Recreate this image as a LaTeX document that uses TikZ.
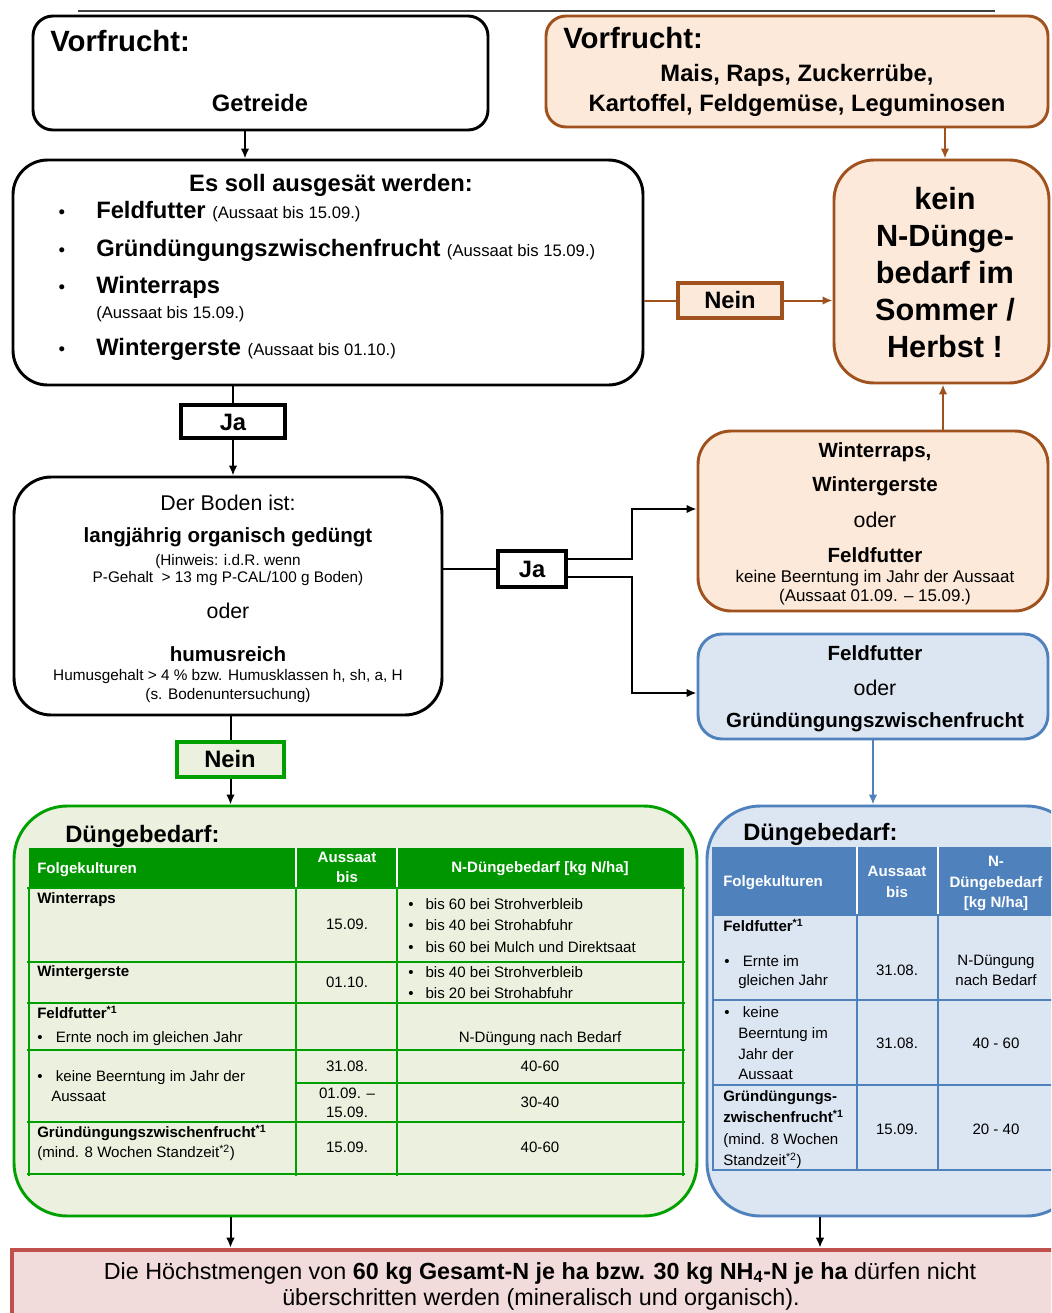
\documentclass[tikz,border=0pt]{standalone}
\usepackage{fontspec}
\setmainfont{Liberation Sans}
\usetikzlibrary{arrows.meta,fit}
\definecolor{brn}{RGB}{160,82,30}
\definecolor{orfill}{RGB}{253,233,217}
\definecolor{grn}{RGB}{0,160,0}
\definecolor{grnhead}{RGB}{0,150,0}
\definecolor{grfill}{RGB}{235,241,222}
\definecolor{blu}{RGB}{79,129,189}
\definecolor{blfill}{RGB}{220,230,242}
\definecolor{redb}{RGB}{192,80,77}
\definecolor{redfill}{RGB}{242,220,219}
\newcommand\fsz[2]{\fontsize{#1}{#2}\selectfont}
\newcommand\fVor{\fsz{22}{26}\bfseries}
\newcommand\fBig{\fsz{17.8}{21}\bfseries}
\newcommand\fSmall{\fsz{12.5}{15}\mdseries}
\newcommand\fKein{\fsz{23}{28}\bfseries}
\newcommand\fMid{\fsz{15.4}{18}\bfseries}
\newcommand\fOder{\fsz{16}{19}\mdseries}
\newcommand\fTiny{\fsz{11.5}{14}\mdseries}
\newcommand\fTab{\fsz{11.3}{14}\mdseries}
\newcommand\fTabB{\fsz{11.3}{14}\bfseries}
\newcommand\fRed{\fsz{17.5}{20}\mdseries}
\tikzset{
  box/.style={draw, line width=2.2pt, inner sep=0pt, fill=white},
  lbl/.style={draw, line width=3pt, inner sep=0pt},
  conn/.style={line width=1.5pt, -{Latex[length=7.5pt,width=6.5pt]}},
  plain/.style={line width=1.5pt},
  t/.style={inner sep=0pt, anchor=base},
  tl/.style={inner sep=0pt, anchor=base west},
  tm/.style={inner sep=0pt, anchor=mid},
  tml/.style={inner sep=0pt, anchor=mid west},
  gline/.style={grn, line width=1.2pt},
  bline/.style={blu, line width=1.4pt},
}
\begin{document}
\begin{tikzpicture}[x=0.75pt,y=-0.75pt]
\useasboundingbox (0,0) rectangle (1051,1313);
\clip (0,0) rectangle (1051,1313);
\fill[white] (0,0) rectangle (1051,1313);

% top rule
\draw[line width=1.5pt, black!75] (78,11) -- (995,11);

% ---------- boxes ----------
\node[box, rounded corners=15pt, fit={(33,16) (488,130)}] (v1) {};
\node[box, draw=brn, fill=orfill, rounded corners=15pt, fit={(546,16) (1048,127)}] (v2) {};
\node[box, rounded corners=26pt, fit={(13,160) (643,385)}] (es) {};
\node[box, draw=brn, fill=orfill, rounded corners=30pt, fit={(834,160) (1049,383)}] (kein) {};
\node[lbl, draw=brn, fill=orfill, fit={(678,283) (782,318)}] (neinA) {};
\node[lbl, fill=white, fit={(181,405) (285,438)}] (ja1) {};
\node[box, rounded corners=28pt, fit={(14,477) (442,715)}] (boden) {};
\node[lbl, fill=white, fit={(498,551) (566,587)}] (ja2) {};
\node[box, draw=brn, fill=orfill, rounded corners=25pt, fit={(698,431) (1048,611)}] (or2) {};
\node[box, draw=blu, fill=blfill, rounded corners=18pt, fit={(698,634) (1048,739)}] (blue1) {};
\node[lbl, draw=grn, fill=grfill, fit={(177,742) (284,777)}] (neinG) {};
\node[box, draw=grn, fill=grfill, rounded corners=40pt, fit={(14,806) (697,1216)}] (gbox) {};
\node[box, draw=blu, fill=blfill, rounded corners=40pt, fit={(707,806) (1080,1216)}] (bbox) {};
\node[box, draw=redb, fill=redfill, line width=3.5pt, fit={(12,1250) (1080,1340)}] (red) {};

% ---------- connectors ----------
\coordinate (xa) at (245,0);
\coordinate (xb) at (945,0);
\coordinate (xc) at (943,0);
\coordinate (xd) at (820,0);
\coordinate (br1) at (632,509);
\coordinate (br2) at (632,693);
\draw[conn] (v1.south -| xa) -- (es.north -| xa);
\draw[conn, brn] (v2.south -| xb) -- (kein.north -| xb);
\draw[plain, brn] (neinA.west -| es.east) -- (neinA.west);
\draw[conn, brn] (neinA.east) -- (kein.west |- neinA.east);
\draw[plain] (es.south -| ja1) -- (ja1.north);
\draw[conn] (ja1.south) -- (boden.north -| ja1);
\draw[plain] (ja2.west -| boden.east) -- (ja2.west);
\draw[conn] ([yshift=7.5pt]ja2.east) -| (br1) -- (or2.west |- br1);
\draw[conn] ([yshift=-6pt]ja2.east) -| (br2) -- (blue1.west |- br2);
\draw[conn, brn] (or2.north -| xc) -- (kein.south -| xc);
\draw[conn, blu] (blue1.south) -- (bbox.north -| blue1.south);
\draw[plain] (boden.south -| neinG) -- (neinG.north);
\draw[conn] (neinG.south) -- (gbox.north -| neinG);
\draw[conn] (gbox.south -| neinG) -- (red.north -| neinG);
\draw[conn] (bbox.south -| xd) -- (red.north -| xd);

% ---------- texts: Vorfrucht ----------
\node[tl, font=\fVor] (v1t) at (50,52) {Vorfrucht:};
\node[t, font=\fBig] (v1g) at (260,112) {Getreide};
\node[tl, font=\fVor] (v2t) at (563,49) {Vorfrucht:};
\node[t, font=\fBig] (v2a) at (797,82) {Mais, Raps, Zuckerrübe,};
\node[t, font=\fBig] (v2b) at (797,111) {Kartoffel, Feldgemüse, Leguminosen};

% ---------- Es soll ----------
\node[t, font=\fBig] (esh) at (331,191) {Es soll ausgesät werden:};
\node[t, font=\fsz{14}{16}] (eb1) at (62,218) {•};
\node[t, font=\fsz{14}{16}] (eb2) at (62,256) {•};
\node[t, font=\fsz{14}{16}] (eb3) at (62,293) {•};
\node[t, font=\fsz{14}{16}] (eb4) at (62,355) {•};
\node[tl, font=\fBig] (ei1) at (96,218) {Feldfutter {\fSmall (Aussaat bis 15.09.)}};
\node[tl, font=\fBig] (ei2) at (96,256) {Gründüngungszwischenfrucht {\fSmall (Aussaat bis 15.09.)}};
\node[tl, font=\fBig] (ei3) at (96,293) {Winterraps};
\node[tl, font=\fSmall] (ei3b) at (96,318) {(Aussaat bis 15.09.)};
\node[tl, font=\fBig] (ei4) at (96,355) {Wintergerste {\fSmall (Aussaat bis 01.10.)}};

% ---------- kein ----------
\node[t, font=\fKein] (k1) at (945,209) {kein};
\node[t, font=\fKein] (k2) at (945,246) {N-Dünge-};
\node[t, font=\fKein] (k3) at (945,283) {bedarf im};
\node[t, font=\fKein] (k4) at (945,320) {Sommer /};
\node[t, font=\fKein] (k5) at (945,357) {Herbst !};

% ---------- labels ----------
\node[t, font=\fBig] (nat) at (730,308) {Nein};
\node[t, font=\fBig] (j1t) at (233,430) {Ja};
\node[t, font=\fBig] (j2t) at (532,577) {Ja};
\node[t, font=\fBig] (ngt) at (230,767) {Nein};

% ---------- Boden ----------
\node[t, font=\fOder] (bo1) at (228,510) {Der Boden ist:};
\node[t, font=\fMid] (bo2) at (228,542) {langjährig organisch gedüngt};
\node[t, font=\fTiny] (bo3) at (228,565) {(Hinweis: i.d.R. wenn};
\node[t, font=\fTiny] (bo4) at (228,582) {P-Gehalt\ \ > 13 mg P-CAL/100 g Boden)};
\node[t, font=\fOder] (bo5) at (228,618) {oder};
\node[t, font=\fMid] (bo6) at (228,661) {humusreich};
\node[t, font=\fTiny] (bo7) at (228,680) {Humusgehalt > 4 \% bzw. Humusklassen h, sh, a, H};
\node[t, font=\fTiny] (bo8) at (228,699) {(s. Bodenuntersuchung)};

% ---------- orange box 2 ----------
\node[t, font=\fMid] (o1) at (875,457) {Winterraps,};
\node[t, font=\fMid] (o2) at (875,491) {Wintergerste};
\node[t, font=\fOder] (o3) at (875,527) {oder};
\node[t, font=\fMid] (o4) at (875,562) {Feldfutter};
\node[t, font=\fsz{12.7}{15}] (o5) at (875,582) {keine Beerntung im Jahr der Aussaat};
\node[t, font=\fsz{12.7}{15}] (o6) at (875,601) {(Aussaat 01.09. – 15.09.)};

% ---------- blue box 1 ----------
\node[t, font=\fMid] (bl1) at (875,660) {Feldfutter};
\node[t, font=\fOder] (bl2) at (875,695) {oder};
\node[t, font=\fMid] (bl3) at (875,727) {Gründüngungszwischenfrucht};

% ---------- Düngebedarf headings ----------
\node[tl, font=\fBig] (gh) at (65,842) {Düngebedarf:};
\node[tl, font=\fBig] (bh) at (743,840) {Düngebedarf:};

% ---------- green table ----------
\fill[grnhead] (29,848) rectangle (683,888);
\draw[white, line width=1.2pt] (296,848) -- (296,888) (397,848) -- (397,888);
\draw[gline] (27,888) -- (685,888) (27,962) -- (685,962) (27,1003) -- (685,1003)
  (27,1050) -- (685,1050) (296,1083) -- (685,1083) (27,1122) -- (685,1122) (27,1174) -- (685,1174);
\draw[gline] (29,888) -- (29,1176) (296,888) -- (296,1176) (397,888) -- (397,1176) (683,848) -- (683,1176);
\node[tml, font=\fTabB, white] (g01) at (37,870) {Folgekulturen};
\node[tm, font=\fTabB, white] (g02) at (347,859) {Aussaat};
\node[tm, font=\fTabB, white] (g03) at (347,879) {bis};
\node[tm, font=\fTabB, white] (g04) at (540,869) {N-Düngebedarf [kg N/ha]};
\node[tml, font=\fTabB] (g11) at (37,900) {Winterraps};
\node[tm, font=\fTab] (g12) at (347,926) {15.09.};
\node[tml, font=\fTab] (g13) at (408,906) {•\hspace{9pt}bis 60 bei Strohverbleib};
\node[tml, font=\fTab] (g14) at (408,927) {•\hspace{9pt}bis 40 bei Strohabfuhr};
\node[tml, font=\fTab] (g15) at (408,949) {•\hspace{9pt}bis 60 bei Mulch und Direktsaat};
\node[tml, font=\fTabB] (g21) at (37,973) {Wintergerste};
\node[tm, font=\fTab] (g22) at (347,984) {01.10.};
\node[tml, font=\fTab] (g23) at (408,974) {•\hspace{9pt}bis 40 bei Strohverbleib};
\node[tml, font=\fTab] (g24) at (408,995) {•\hspace{9pt}bis 20 bei Strohabfuhr};
\node[tml, font=\fTabB] (g31) at (37,1015) {Feldfutter\textsuperscript{*1}};
\node[tml, font=\fTab] (g32) at (37,1039) {•\hspace{10pt}Ernte noch im gleichen Jahr};
\node[tm, font=\fTab] (g33) at (540,1039) {N-Düngung nach Bedarf};
\node[tml, font=\fTab] (g41) at (37,1078) {•\hspace{10pt}keine Beerntung im Jahr der};
\node[tml, font=\fTab] (g42) at (51,1098) {Aussaat};
\node[tm, font=\fTab] (g43) at (347,1068) {31.08.};
\node[tm, font=\fTab] (g44) at (540,1068) {40-60};
\node[tm, font=\fTab] (g45) at (347,1095) {01.09. –};
\node[tm, font=\fTab] (g46) at (347,1114) {15.09.};
\node[tm, font=\fTab] (g47) at (540,1104) {30-40};
\node[tml, font=\fTabB] (g51) at (37,1134) {Gründüngungszwischenfrucht\textsuperscript{*1}};
\node[tml, font=\fTab] (g52) at (37,1154) {(mind. 8 Wochen Standzeit\textsuperscript{*2})};
\node[tm, font=\fTab] (g53) at (347,1149) {15.09.};
\node[tm, font=\fTab] (g54) at (540,1149) {40-60};

% ---------- blue table ----------
\fill[blu] (713,847) rectangle (1060,915);
\draw[white, line width=1.4pt] (857,847) -- (857,915) (938,847) -- (938,915);
\draw[bline] (713,915) -- (1060,915) (713,1000) -- (1060,1000) (713,1085) -- (1060,1085) (713,1170) -- (1060,1170);
\draw[bline] (713,847) -- (713,1171) (857,915) -- (857,1171) (938,915) -- (938,1171);
\node[tml, font=\fTabB, white] (b01) at (723,883) {Folgekulturen};
\node[tm, font=\fTabB, white] (b02) at (897,873) {Aussaat};
\node[tm, font=\fTabB, white] (b03) at (897,894) {bis};
\node[tm, font=\fTabB, white] (b04) at (996,863) {N-};
\node[tm, font=\fTabB, white] (b05) at (996,884) {Düngebedarf};
\node[tm, font=\fTabB, white] (b06) at (996,904) {[kg N/ha]};
\node[tml, font=\fTabB] (b11) at (723,928) {Feldfutter\textsuperscript{*1}};
\node[tml, font=\fTab] (b12) at (724,963) {•\hspace{10pt}Ernte im};
\node[tml, font=\fTab] (b13) at (738,982) {gleichen Jahr};
\node[tm, font=\fTab] (b14) at (897,972) {31.08.};
\node[tm, font=\fTab] (b15) at (996,962) {N-Düngung};
\node[tm, font=\fTab] (b16) at (996,982) {nach Bedarf};
\node[tml, font=\fTab] (b21) at (724,1014) {•\hspace{10pt}keine};
\node[tml, font=\fTab] (b22) at (738,1035) {Beerntung im};
\node[tml, font=\fTab] (b23) at (738,1056) {Jahr der};
\node[tml, font=\fTab] (b24) at (738,1076) {Aussaat};
\node[tm, font=\fTab] (b25) at (897,1045) {31.08.};
\node[tm, font=\fTab] (b26) at (996,1045) {40 - 60};
\node[tml, font=\fTabB] (b31) at (723,1098) {Gründüngungs-};
\node[tml, font=\fTabB] (b32) at (723,1119) {zwischenfrucht\textsuperscript{*1}};
\node[tml, font=\fTab] (b33) at (723,1141) {(mind. 8 Wochen};
\node[tml, font=\fTab] (b34) at (723,1162) {Standzeit\textsuperscript{*2})};
\node[tm, font=\fTab] (b35) at (897,1131) {15.09.};
\node[tm, font=\fTab] (b36) at (996,1131) {20 - 40};

% ---------- red box ----------
\node[t, font=\fRed] (r1) at (540,1279) {Die Höchstmengen von \textbf{60 kg Gesamt-N je ha bzw. 30 kg NH\textsubscript{4}-N je ha} dürfen nicht};
\node[t, font=\fRed] (r2) at (541,1305) {überschritten werden (mineralisch und organisch).};
\end{tikzpicture}
\end{document}
